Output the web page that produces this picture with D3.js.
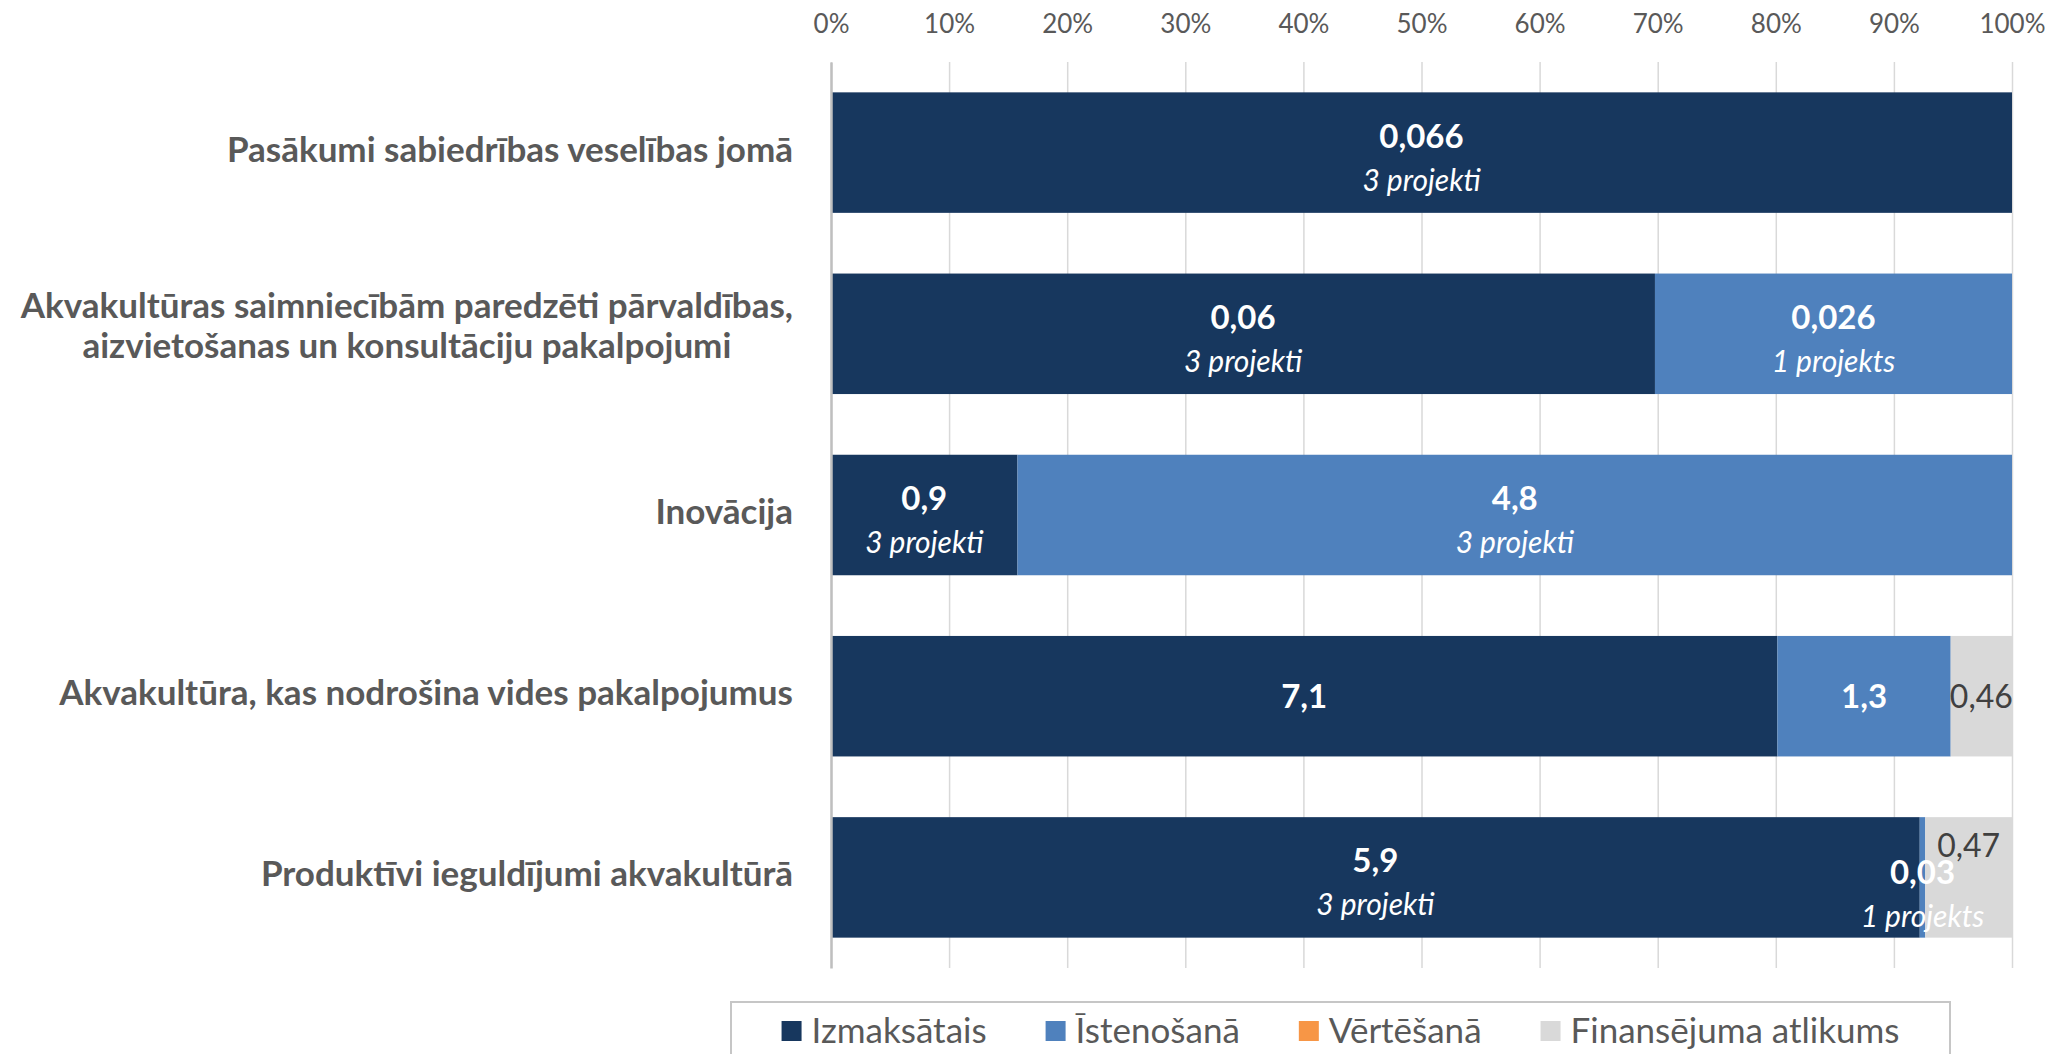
<!DOCTYPE html>
<html>
<head>
<meta charset="utf-8">
<title>Finansējums akvakultūrai</title>
<script src="https://cdn.jsdelivr.net/npm/d3@7/dist/d3.min.js"></script>
<style>
body{margin:0;background:#fff;}
.canvas{width:2045px;height:1054px;}
svg text{font-family:Lato,"Open Sans",sans-serif;}
</style>
</head>
<body>
<div id="canvas" class="canvas"></div>
<script>
//data (milj. EUR), "|" marks a line break in a label
var categories = [
    'Pasākumi sabiedrības veselības jomā',
    'Akvakultūras saimniecībām paredzēti pārvaldības,|aizvietošanas un konsultāciju pakalpojumi',
    'Inovācija',
    'Akvakultūra, kas nodrošina vides pakalpojumus',
    'Produktīvi ieguldījumi akvakultūrā'
];
var seriesNames = ['Izmaksātais', 'Īstenošanā', 'Vērtēšanā', 'Finansējuma atlikums'];
var izmaksatais = [0.066, 0.06, 0.9, 7.1, 5.9];
var istenosana  = [0, 0.026, 4.8, 1.3, 0.03];
var vertesana   = [0, 0, 0, 0, 0];
var atlikums    = [0, 0, 0, 0.46, 0.47];
var izmaksataisProjekti = [3, 3, 3, null, 3];
var istenosanaProjekti  = [null, 1, 3, null, 1];
var tickValues = [0, 0.1, 0.2, 0.3, 0.4, 0.5, 0.6, 0.7, 0.8, 0.9, 1];

var colors = ['#17375E', '#4F81BD', '#F79646', '#D9D9D9'];

//margin convention
var m = {t:62, r:33, b:86, l:831};
var outerWidth = 2045,
    outerHeight = 1054;
var w = outerWidth - m.l - m.r,
    h = outerHeight - m.t - m.b;

var svg = d3.select('.canvas')
    .append('svg')
    .attr('width', outerWidth)
    .attr('height', outerHeight);

var plot = svg.append('g')
    .attr('transform', 'translate(' + m.l + ',' + m.t + ')');

//table for the stack
var rows = categories.map(function(c, i){
    return {
        cat: c,
        s0: izmaksatais[i],
        s1: istenosana[i],
        s2: vertesana[i],
        s3: atlikums[i],
        p0: izmaksataisProjekti[i],
        p1: istenosanaProjekti[i]
    };
});

var keys = ['s0', 's1', 's2', 's3'];
var stacked = d3.stack()
    .keys(keys)
    .offset(d3.stackOffsetExpand)(rows);

var scaleX = d3.scaleLinear()
    .domain([0, 1])
    .range([0, w]);

var scaleY = d3.scaleBand()
    .domain(categories)
    .range([0, h])
    .paddingInner(0.335)
    .paddingOuter(0.1675);

//gridlines
var grid = plot.append('g').attr('class', 'grid')
    .call(d3.axisBottom(scaleX).tickValues(tickValues).tickSize(h).tickFormat(''));
grid.select('.domain').remove();
grid.selectAll('line').attr('stroke', '#d9d9d9').attr('stroke-width', 1.5);

//percent labels on top
var axisTop = plot.append('g').attr('class', 'axis')
    .call(d3.axisTop(scaleX).tickValues(tickValues).tickSize(0).tickPadding(29)
        .tickFormat(d3.format('.0%')));
axisTop.select('.domain').remove();
axisTop.selectAll('text')
    .attr('fill', '#595959')
    .style('font-size', '26px');

//bars
var layers = plot.selectAll('.layer')
    .data(stacked)
    .enter().append('g')
    .attr('class', 'layer')
    .attr('fill', function(d, i){ return colors[i]; });

layers.selectAll('rect')
    .data(function(d){ return d; })
    .enter().append('rect')
    .attr('x', function(d){ return scaleX(d[0]); })
    .attr('y', function(d){ return scaleY(d.data.cat); })
    .attr('width', function(d){ return scaleX(d[1]) - scaleX(d[0]); })
    .attr('height', scaleY.bandwidth());

//category axis line
var axisLeft = plot.append('g').attr('class', 'axis')
    .call(d3.axisLeft(scaleY).tickSize(0).tickSizeOuter(0).tickFormat(''));
axisLeft.select('.domain').attr('stroke', '#bfbfbf').attr('stroke-width', 2.5);

//category labels, several lines centred on each other, block right aligned
var catLabels = plot.selectAll('.cat')
    .data(categories)
    .enter().append('text')
    .attr('class', 'cat')
    .attr('fill', '#595959')
    .style('font-size', '35px')
    .style('font-weight', 'bold')
    .attr('text-anchor', 'middle');

catLabels.each(function(d){
    var t = d3.select(this);
    var lines = d.split('|');
    var cy = scaleY(d) + scaleY.bandwidth()/2;
    var first = cy + 9 - (lines.length - 1)*25;
    lines.forEach(function(l, i){
        t.append('tspan').attr('y', first + i*40).text(l);
    });
    var maxW = d3.max(t.selectAll('tspan').nodes(), function(n){ return n.getComputedTextLength(); });
    t.selectAll('tspan').attr('x', -38 - maxW/2);
});

//data labels
function fmt(v){ return String(v).replace('.', ','); }
function projekti(n){ return n == 1 ? n + ' projekts' : n + ' projekti'; }

var labels = [];
stacked.forEach(function(s, k){
    s.forEach(function(d, i){
        var v = d.data[keys[k]];
        if(v > 0){
            labels.push({
                k: k, i: i, value: v,
                proj: k == 0 ? d.data.p0 : (k == 1 ? d.data.p1 : null),
                cx: scaleX((d[0] + d[1])/2),
                cy: scaleY(d.data.cat) + scaleY.bandwidth()/2
            });
        }
    });
});

//a couple of labels were dragged in the original to stop them overlapping
function nudge(d){
    if(d.i == 4 && d.k == 1) return 12;
    if(d.i == 4 && d.k == 3) return -32;
    return 0;
}

var dl = plot.selectAll('.dl')
    .data(labels)
    .enter().append('g')
    .attr('class', 'dl')
    .attr('transform', function(d){ return 'translate(' + d.cx + ',' + (d.cy + nudge(d)) + ')'; });

dl.append('text')
    .attr('text-anchor', 'middle')
    .attr('y', function(d){ return d.proj ? -5 : 12; })
    .attr('fill', function(d){ return d.k == 3 ? '#404040' : '#fff'; })
    .style('font-size', function(d){ return d.k == 3 ? '32px' : '33px'; })
    .style('font-weight', function(d){ return d.k == 3 ? 'normal' : 'bold'; })
    .text(function(d){ return fmt(d.value); });

dl.filter(function(d){ return d.proj; })
    .append('text')
    .attr('text-anchor', 'middle')
    .attr('y', 38)
    .attr('fill', '#fff')
    .style('font-size', '30px')
    .style('font-style', 'italic')
    .text(function(d){ return projekti(d.proj); });

//legend
var legend = svg.append('g').attr('class', 'legend');
legend.append('rect')
    .attr('x', 731).attr('y', 1002)
    .attr('width', 1219).attr('height', 90)
    .attr('fill', '#fff')
    .attr('stroke', '#c6c6c6')
    .attr('stroke-width', 2);

var items = legend.selectAll('.item')
    .data(seriesNames)
    .enter().append('g')
    .attr('class', 'item');
items.append('rect')
    .attr('width', 20).attr('height', 20)
    .attr('y', 1021)
    .attr('fill', function(d, i){ return colors[i]; });
items.append('text')
    .attr('x', 30).attr('y', 1043)
    .attr('fill', '#595959')
    .style('font-size', '35px')
    .text(function(d){ return d; });

var pos = 0, starts = [];
items.each(function(){
    starts.push(pos);
    pos += 30 + d3.select(this).select('text').node().getComputedTextLength() + 59;
});
var total = pos - 59;
var left = 731 + (1219 - total)/2;
items.attr('transform', function(d, i){ return 'translate(' + (left + starts[i]) + ',0)'; });
</script>
</body>
</html>
